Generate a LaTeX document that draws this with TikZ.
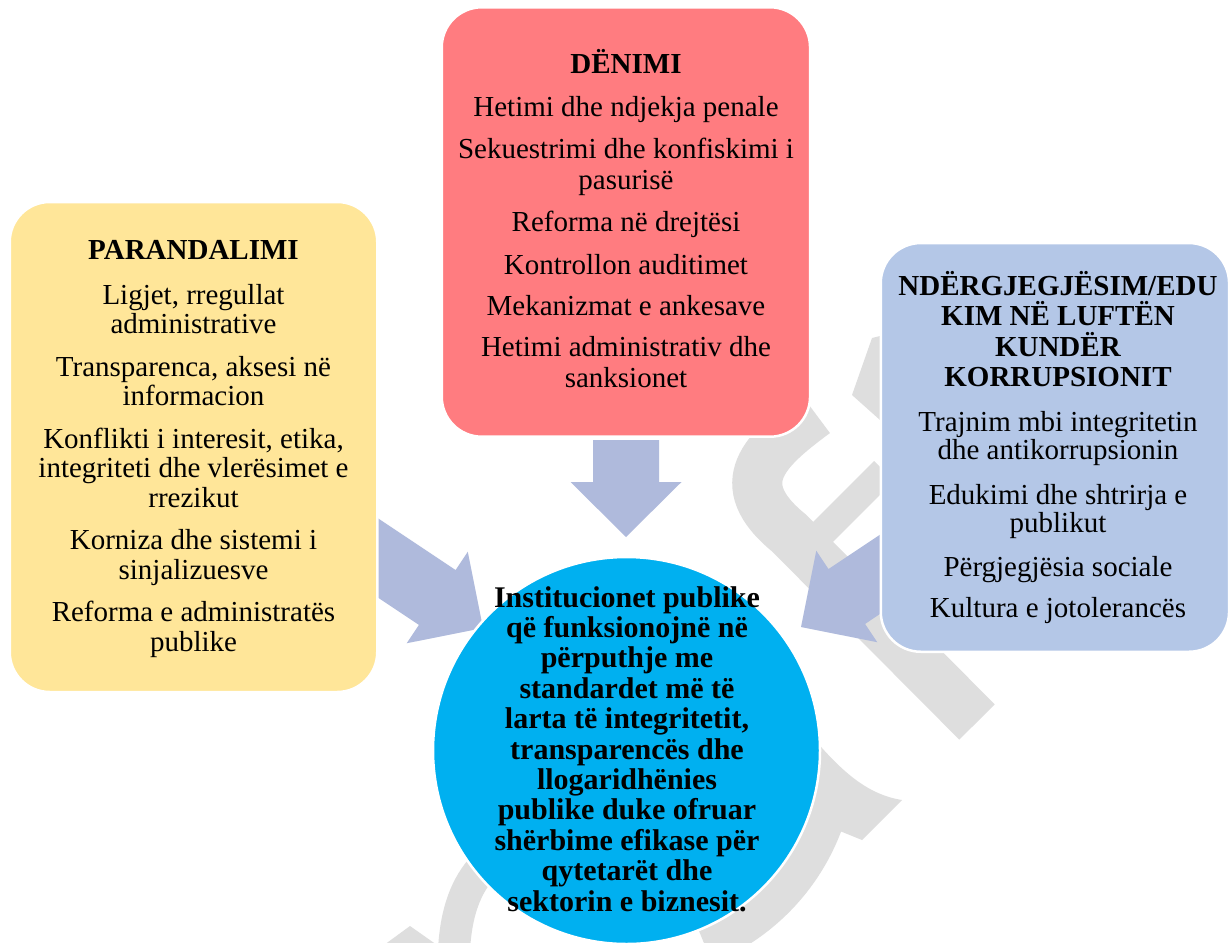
\documentclass[tikz,border=0pt]{standalone}
\usepackage{fontspec}
\setmainfont{Liberation Serif}
\definecolor{yellowc}{RGB}{255,230,153}
\definecolor{redc}{RGB}{255,124,128}
\definecolor{bluec}{RGB}{180,199,231}
\definecolor{circc}{RGB}{0,176,240}
\definecolor{arrc}{RGB}{175,186,220}
\definecolor{wmgray}{RGB}{222,222,222}
\begin{document}
\begin{tikzpicture}[x=1pt,y=-1pt,
  box/.style={rectangle, rounded corners=40pt, draw=white, line width=2.5pt, inner sep=0pt},
  txt/.style={align=center, inner sep=0pt, font=\fontsize{29}{29.5}\selectfont},
  ctxt/.style={align=center, inner sep=0pt, font=\fontsize{30}{30.4}\selectfont\bfseries},
  blockarr/.style={fill=arrc}]
\useasboundingbox (0,0) rectangle (1230,942);
\fill[white] (0,0) rectangle (1230,942);
% watermark
\draw[wmgray, line width=50pt] (815,413) .. controls (765,450) and (728,483) .. (789,533) -- (977,722);
\draw[wmgray, line width=28pt] (884,471) -- (800,555);
\fill[wmgray] (872,338) -- (880,336) -- (880,420) -- (852,395) -- cycle;
\fill[wmgray] (815,740) .. controls (845,775) and (870,795) .. (902,800) -- (862,840) -- (830,827) -- (800,800) -- cycle;
\draw[wmgray, line width=40pt] (626,750) ++(15:210) arc[start angle=15, end angle=68, radius=210];
\draw[wmgray, line width=32pt] (484,866) .. controls (466,885) and (456,912) .. (454,950);
\fill[wmgray] (410,926) -- (437,945) -- (384,945) -- cycle;
% arrows
\begin{scope}[shift={(626,537)}, rotate=-90]
  \fill[blockarr] (0,0) -- (-55,55.5) -- (-55,33) -- (-97,33) -- (-97,-33) -- (-55,-33) -- (-55,-55.5) -- cycle;
\end{scope}
\begin{scope}[shift={(483,628)}, rotate=-33.7]
  \fill[blockarr] (0,0) -- (-55,55) -- (-55,33) -- (-200,33) -- (-200,-33) -- (-55,-33) -- (-55,-55) -- cycle;
\end{scope}
\begin{scope}[shift={(801,627)}, rotate=-146.3]
  \fill[blockarr] (0,0) -- (-55,55) -- (-55,33) -- (-200,33) -- (-200,-33) -- (-55,-33) -- (-55,-55) -- cycle;
\end{scope}
% boxes
\node[box, fill=yellowc, minimum width=367.5pt, minimum height=490pt] (prev) at (193.5,447) {};
\node[box, fill=redc, minimum width=368.3pt, minimum height=429.4pt] (pun) at (625.9,222) {};
\node[box, fill=bluec, minimum width=348.3pt, minimum height=408.7pt] (aware) at (1054.9,447.4) {};
\node[circle, fill=circc, draw=white, line width=2.5pt, minimum size=387pt, inner sep=0pt] (inst) at (626.5,750.5) {};
% texts (base anchor = baseline of the last line)
\node[txt, anchor=base] (prevtxt) at (193.5,651) {\textbf{PARANDALIMI}\\[15.5pt]
Ligjet, rregullat\\ administrative\\[13pt]
Transparenca, aksesi në\\ informacion\\[13pt]
Konflikti i interesit, etika,\\ integriteti dhe vlerësimet e\\ rrezikut\\[13pt]
Korniza dhe sistemi i\\ sinjalizuesve\\[13pt]
Reforma e administratës\\ publike};
\node[txt, anchor=base] (puntxt) at (626,387) {\textbf{DËNIMI}\\[13.5pt]
Hetimi dhe ndjekja penale\\[12.5pt]
Sekuestrimi dhe konfiskimi i\\[1.5pt] pasurisë\\[12.5pt]
Reforma në drejtësi\\[13.5pt]
Kontrollon auditimet\\[11.5pt]
Mekanizmat e ankesave\\[11.5pt]
Hetimi administrativ dhe\\[1.5pt] sanksionet};
\node[txt, anchor=base] (awaretxt) at (1058,617) {\textbf{NDËRGJEGJËSIM/EDU}\\[1pt]
\textbf{KIM NË LUFTËN}\\[1pt] \textbf{KUNDËR}\\[1pt] \textbf{KORRUPSIONIT}\\[15.5pt]
Trajnim mbi integritetin\\[-1.5pt] dhe antikorrupsionin\\[15pt]
Edukimi dhe shtrirja e\\[-1.5pt] publikut\\[14.5pt]
Përgjegjësia sociale\\[11.5pt]
Kultura e jotolerancës};
\node[ctxt, anchor=base] (insttxt) at (627,911) {Institucionet publike\\ që funksionojnë në\\ përputhje me\\ standardet më të\\ larta të integritetit,\\ transparencës dhe\\ llogaridhënies\\ publike duke ofruar\\ shërbime efikase për\\ qytetarët dhe\\ sektorin e biznesit.};
\end{tikzpicture}
\end{document}
